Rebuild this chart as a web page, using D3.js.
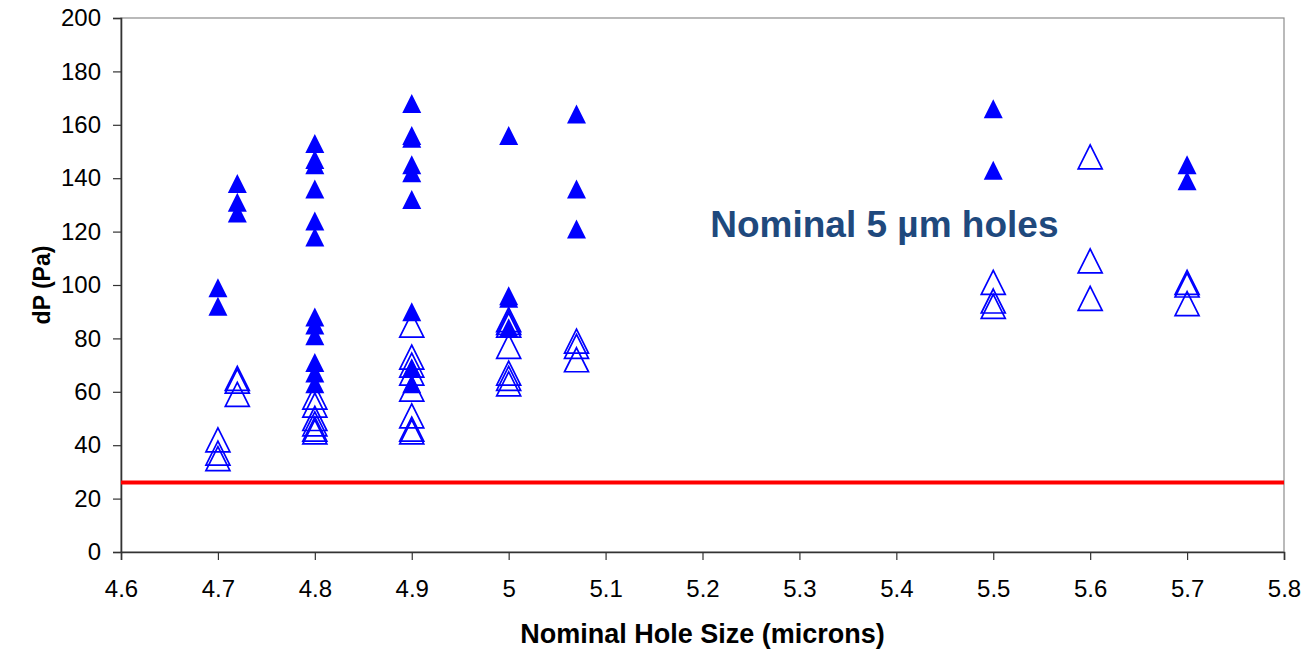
<!DOCTYPE html>
<html>
<head>
<meta charset="utf-8">
<script src="https://cdn.jsdelivr.net/npm/d3@7"></script>
<style>
    html, body { margin: 0; padding: 0; background: #fff; }
    svg text { font-family: "Liberation Sans", Arial, sans-serif; }
</style>
</head>
<body>
<div id="chart"></div>
<script>
// hole sizes (microns) and the dP readings taken at each one
const holeSizes = [4.7, 4.72, 4.8, 4.9, 5.0, 5.07, 5.5, 5.6, 5.7];
const filledDP = [
    [99, 92],
    [138, 131, 127],
    [153, 147, 145, 136, 124, 118, 88, 85, 81, 71, 67, 63],
    [168, 156, 155, 145, 142, 132, 90, 69, 63],
    [156, 96, 95, 84],
    [164, 136, 121],
    [166, 143],
    [],
    [145, 139]
];
const openDP = [
    [42, 37, 35],
    [65, 64, 59],
    [58, 55, 50, 48, 46, 45],
    [85, 73, 70, 67, 61, 51, 46, 45],
    [87, 86, 85, 77, 67, 65, 63],
    [79, 77, 72],
    [101, 94, 92],
    [148, 109, 95],
    [101, 100, 93]
];
const limitDP = 26;
const xTicks = [4.6, 4.7, 4.8, 4.9, 5.0, 5.1, 5.2, 5.3, 5.4, 5.5, 5.6, 5.7, 5.8];
const xTickLabels = ["4.6", "4.7", "4.8", "4.9", "5", "5.1", "5.2", "5.3", "5.4", "5.5", "5.6", "5.7", "5.8"];
const yTicks = [0, 20, 40, 60, 80, 100, 120, 140, 160, 180, 200];
const note = { text: "Nominal 5 \u00b5m holes", x: 5.208, y: 118 };

const width = 1313, height = 652;
const margin = { top: 18, right: 29, bottom: 100, left: 121 };
const innerW = width - margin.left - margin.right;
const innerH = height - margin.top - margin.bottom;

const toPoints = (groups) => groups.flatMap((vals, i) => vals.map((v) => ({ x: holeSizes[i], y: v })));
const filledPoints = toPoints(filledDP);
const openPoints = toPoints(openDP);

const svg = d3.select("#chart").append("svg")
    .attr("width", width)
    .attr("height", height);

const g = svg.append("g").attr("transform", `translate(${margin.left},${margin.top})`);

const x = d3.scaleLinear().domain([4.6, 5.8]).range([0, innerW]);
const y = d3.scaleLinear().domain([0, 200]).range([innerH, 0]);

// plot frame: grey top/right, dark axes drawn below
g.append("rect")
    .attr("width", innerW)
    .attr("height", innerH)
    .attr("fill", "none")
    .attr("stroke", "#8c8c8c")
    .attr("stroke-width", 1.2);

const yAxis = g.append("g")
    .call(d3.axisLeft(y).tickValues(yTicks).tickSize(8).tickPadding(12).tickFormat(d3.format("d")));
const xAxis = g.append("g")
    .attr("transform", `translate(0,${innerH})`)
    .call(d3.axisBottom(x).tickValues(xTicks).tickSize(8).tickPadding(20)
        .tickFormat((d, i) => xTickLabels[i]));

[yAxis, xAxis].forEach((ax) => {
    ax.selectAll(".domain").attr("stroke", "#333").attr("stroke-width", 1.6);
    ax.selectAll(".tick line").attr("stroke", "#333").attr("stroke-width", 1.2);
    ax.selectAll(".tick text")
        .attr("fill", "#000")
        .style("font-size", "24px");
});

// limit line
g.append("line")
    .attr("x1", 0)
    .attr("x2", innerW)
    .attr("y1", y(limitDP))
    .attr("y2", y(limitDP))
    .attr("stroke", "#ff0000")
    .attr("stroke-width", 4);

const triangle = (w, h) => `M0,${-h / 2}L${w / 2},${h / 2}L${-w / 2},${h / 2}Z`;

g.selectAll("path.open")
    .data(openPoints)
    .join("path")
    .attr("class", "open")
    .attr("transform", (d) => `translate(${x(d.x)},${y(d.y)})`)
    .attr("d", triangle(24, 24))
    .attr("fill", "none")
    .attr("stroke", "#0000ff")
    .attr("stroke-width", 1.7);

g.selectAll("path.filled")
    .data(filledPoints)
    .join("path")
    .attr("class", "filled")
    .attr("transform", (d) => `translate(${x(d.x)},${y(d.y)})`)
    .attr("d", triangle(19, 19))
    .attr("fill", "#0000ff");

g.append("text")
    .attr("x", x(note.x))
    .attr("y", y(note.y))
    .attr("fill", "#1f497d")
    .style("font-size", "37px")
    .style("font-weight", "bold")
    .text(note.text);

// axis titles
svg.append("text")
    .attr("transform", `translate(${42},${margin.top + innerH / 2}) rotate(-90)`)
    .attr("text-anchor", "middle")
    .attr("dy", "0.35em")
    .style("font-size", "23px")
    .style("font-weight", "bold")
    .text("dP (Pa)");

svg.append("text")
    .attr("x", margin.left + innerW / 2)
    .attr("y", 643)
    .attr("text-anchor", "middle")
    .style("font-size", "27px")
    .style("font-weight", "bold")
    .text("Nominal Hole Size (microns)");
</script>
</body>
</html>
